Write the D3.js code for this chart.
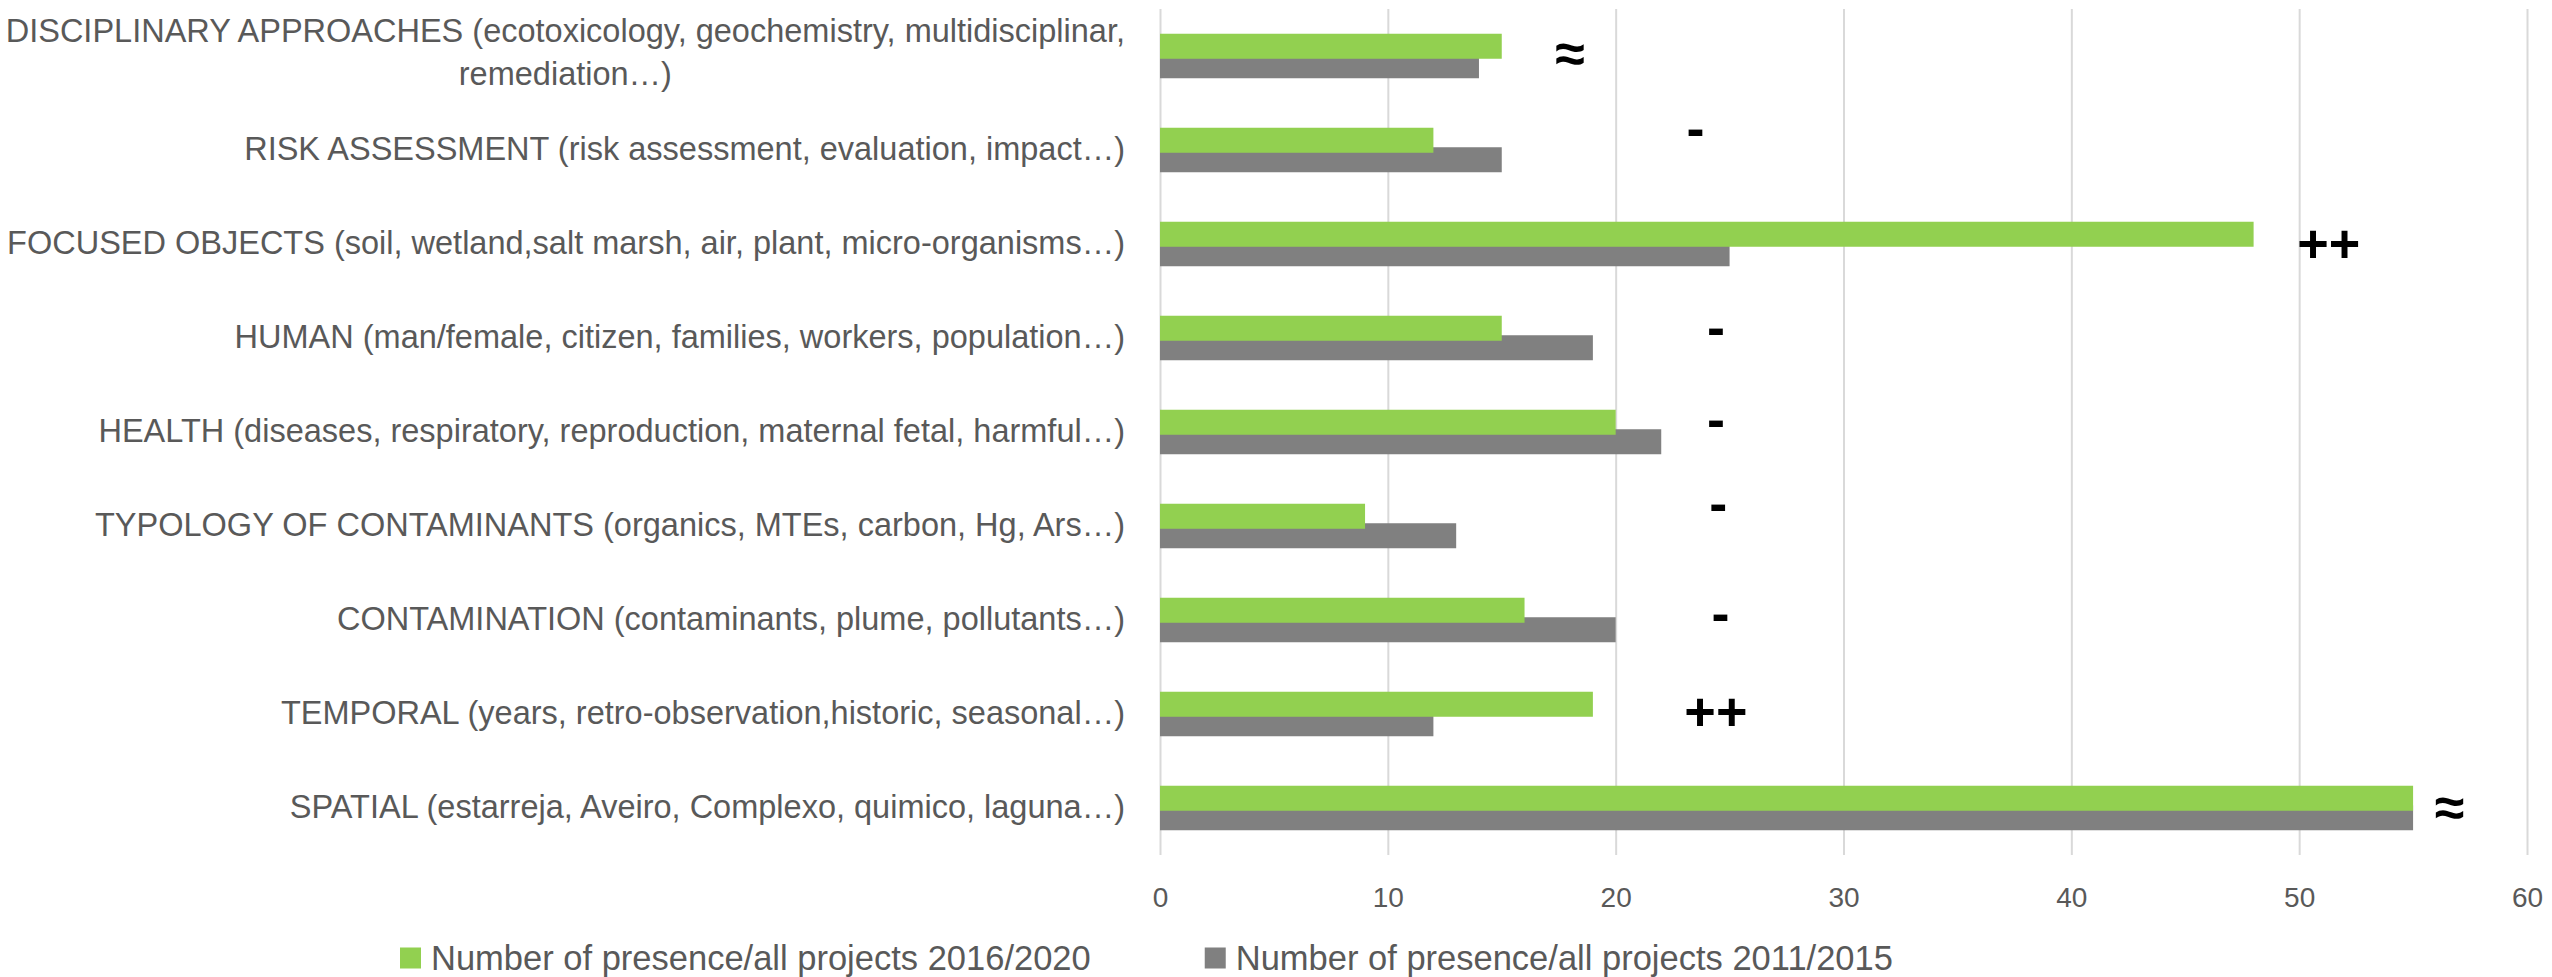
<!DOCTYPE html>
<html>
<head>
<meta charset="utf-8">
<script src="https://cdn.jsdelivr.net/npm/d3@7"></script>
<style>
  body { margin: 0; background: #fff; }
  text { font-family: "Liberation Sans", Arial, sans-serif; }
</style>
</head>
<body>
<div id="chart"></div>
<script>
const categories = [
    "DISCIPLINARY APPROACHES (ecotoxicology, geochemistry, multidisciplinar, remediation…)",
    "RISK ASSESSMENT (risk assessment, evaluation, impact…)",
    "FOCUSED OBJECTS (soil, wetland,salt marsh, air, plant, micro-organisms…)",
    "HUMAN (man/female, citizen, families, workers, population…)",
    "HEALTH (diseases, respiratory, reproduction, maternal fetal, harmful…)",
    "TYPOLOGY OF CONTAMINANTS (organics, MTEs, carbon, Hg, Ars…)",
    "CONTAMINATION (contaminants, plume, pollutants…)",
    "TEMPORAL (years, retro-observation,historic, seasonal…)",
    "SPATIAL (estarreja, Aveiro, Complexo, quimico, laguna…)"
];

const values2016 = [15, 12, 48, 15, 20, 9, 16, 19, 55];
const values2011 = [14, 15, 25, 19, 22, 13, 20, 12, 55];

const seriesNames = [
    "Number of presence/all projects 2016/2020",
    "Number of presence/all projects 2011/2015"
];

const xTicks = [0, 10, 20, 30, 40, 50, 60];

// trend marks written next to each category, and where they sit on the value axis
const trendMarks = ["≈", "-", "++", "-", "-", "-", "-", "++", "≈"];
const trendAt = [18, 23.5, 51.3, 24.4, 24.4, 24.5, 24.6, 24.4, 56.6];

const width = 2552;
const height = 977;
const margin = { top: 9, right: 25, bottom: 122, left: 1160 };
const colors = ["#92D050", "#808080"];
const textColor = "#595959";

const svg = d3.select("#chart")
    .append("svg")
    .attr("width", width)
    .attr("height", height);

const x = d3.scaleLinear()
    .domain([0, 60])
    .range([margin.left, width - margin.right]);

const y = d3.scaleBand()
    .domain(categories)
    .range([margin.top, height - margin.bottom]);

const plotH = height - margin.bottom - margin.top;

// grid + value axis
const xAxis = svg.append("g")
    .attr("transform", `translate(0,${height - margin.bottom})`)
    .call(d3.axisBottom(x).tickValues(xTicks).tickSize(-plotH).tickFormat(d3.format("d")));

xAxis.select(".domain").remove();
xAxis.selectAll(".tick line")
    .attr("stroke", "#D9D9D9")
    .attr("stroke-width", 2);
xAxis.selectAll(".tick text")
    .attr("y", 42.5)
    .attr("dy", "0.35em")
    .attr("fill", textColor)
    .style("font-size", "28px");

// bars
const barH = y.bandwidth() * 0.266;
const overlap = barH * 0.22;
const groupH = barH * 2 - overlap;

const rows = categories.map((c, i) => ({ c, a: values2016[i], b: values2011[i] }));

const bars = svg.append("g");

bars.selectAll(".b2011")
    .data(rows)
    .join("rect")
    .attr("x", x(0))
    .attr("y", d => y(d.c) + (y.bandwidth() - groupH) / 2 + barH - overlap)
    .attr("width", d => x(d.b) - x(0))
    .attr("height", barH)
    .attr("fill", colors[1]);

bars.selectAll(".b2016")
    .data(rows)
    .join("rect")
    .attr("x", x(0))
    .attr("y", d => y(d.c) + (y.bandwidth() - groupH) / 2)
    .attr("width", d => x(d.a) - x(0))
    .attr("height", barH)
    .attr("fill", colors[0]);

// category labels
const yAxis = svg.append("g")
    .attr("transform", `translate(${margin.left},0)`)
    .call(d3.axisLeft(y).tickSize(0).tickPadding(35));

yAxis.select(".domain").remove();

const lineGap = 43;
const maxLabelW = 1200;

yAxis.selectAll(".tick text")
    .attr("fill", textColor)
    .style("font-size", "32.5px")
    .each(function(d) {
        const t = d3.select(this);
        const words = d.split(" ");
        const lines = [];
        let line = [];
        t.text(null);
        const probe = t.append("tspan");
        words.forEach(w => {
            line.push(w);
            probe.text(line.join(" "));
            if (probe.node().getComputedTextLength() > maxLabelW && line.length > 1) {
                line.pop();
                lines.push(line.join(" "));
                line = [w];
            }
        });
        lines.push(line.join(" "));
        probe.text(lines[0]);
        const w0 = probe.node().getComputedTextLength();
        probe.remove();

        lines.forEach((s, i) => {
            t.append("tspan")
                .attr("x", i === 0 ? -35 : -35 - w0 / 2)
                .attr("y", (i - (lines.length - 1) / 2) * lineGap - (lines.length > 1 ? 2.5 : 0))
                .attr("dy", "0.32em")
                .attr("text-anchor", i === 0 ? "end" : "middle")
                .text(s);
        });
    });

// trend marks
const nudge = [-3, -22, -1, -11, -13, -23, -7, -3, -1];

svg.append("g")
    .selectAll("text")
    .data(categories)
    .join("text")
    .attr("x", (d, i) => x(trendAt[i]))
    .attr("y", (d, i) => y(d) + y.bandwidth() / 2 + nudge[i])
    .attr("text-anchor", "middle")
    .attr("dominant-baseline", "central")
    .style("font-size", "54px")
    .style("font-weight", "bold")
    .attr("fill", "#000")
    .text((d, i) => trendMarks[i]);

// legend
const legend = svg.append("g")
    .attr("transform", `translate(400, 958)`);

let lx = 0;
seriesNames.forEach((name, i) => {
    const g = legend.append("g")
        .attr("transform", `translate(${lx},0)`);

    g.append("rect")
        .attr("y", -10.5)
        .attr("width", 21)
        .attr("height", 21)
        .attr("fill", colors[i]);

    const txt = g.append("text")
        .attr("x", 31)
        .attr("dy", "0.35em")
        .attr("fill", textColor)
        .style("font-size", "34.5px")
        .text(name);

    lx += 31 + txt.node().getComputedTextLength() + 114;
});
</script>
</body>
</html>
